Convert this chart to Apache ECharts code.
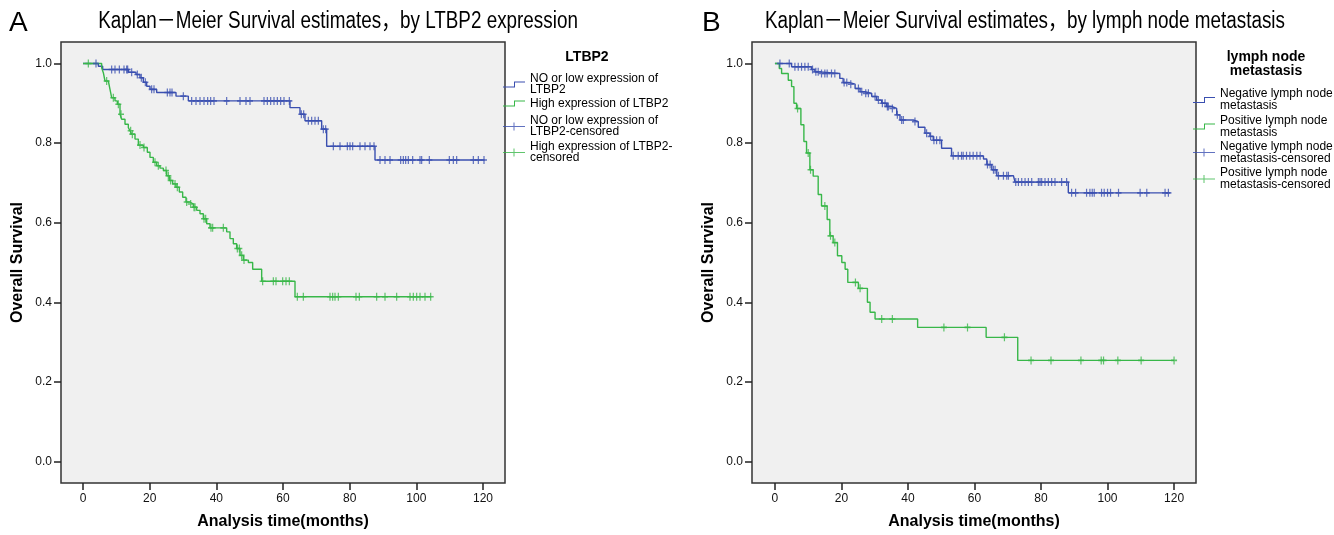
<!DOCTYPE html>
<html>
<head>
<meta charset="utf-8">
<script src="https://cdn.jsdelivr.net/npm/echarts@6/dist/echarts.min.js"></script>
<style>
  html, body { margin: 0; padding: 0; background: #fff; }
  #chart { width: 1334px; height: 535px; }
</style>
</head>
<body>
<div id="chart"></div>
<script>
// ---------------- data ----------------
const xTicks = [0, 20, 40, 60, 80, 100, 120];
const yTicks = [0, 0.2, 0.4, 0.6, 0.8, 1.0];

const titleA = 'Kaplan－Meier Survival estimates，by LTBP2 expression';
const titleB = 'Kaplan－Meier Survival estimates，by lymph node metastasis';
const legendTitleA = 'LTBP2';
const legendTitleB = 'lymph node\nmetastasis';
const legendLabelsA = ['NO or low expression of\nLTBP2', 'High expression of LTBP2', 'NO or low expression of\nLTBP2-censored', 'High expression of LTBP2-\ncensored'];
const legendLabelsB = ['Negative lymph node\nmetastasis', 'Positive lymph node\nmetastasis', 'Negative lymph node\nmetastasis-censored', 'Positive lymph node\nmetastasis-censored'];

// Panel A: LTBP2 low / no expression  [time, survival after step]
const ltbp2LowSteps = [[0,1.0],[4.6,0.993],[5.9,0.985],[13.6,0.978],[15.9,0.9725],[17.1,0.964],[18.1,0.953],[19.1,0.943],[20.1,0.935],[22.1,0.927],[27.9,0.918],[31.6,0.906],[62.1,0.889],[65.1,0.8725],[66.6,0.856],[71.6,0.835],[73.1,0.792],[87.6,0.7575],[120.5,0.7575]];
const ltbp2LowCensor = [3.9,8.6,9.6,10.9,12.3,13.1,13.4,14.6,16.3,17.5,18.7,20.6,21.3,25.3,26.1,26.7,30.1,32.6,33.9,35.1,36.3,37.4,38.3,39.3,43.1,47.1,48.9,50.1,54.3,55.3,56.3,57.3,58.3,59.3,60.3,61.9,65.5,66.2,67.6,68.6,69.6,70.6,72.1,72.8,75.1,77.1,79.3,80.1,80.9,83.1,84.6,86.1,87.3,89.1,90.6,92.1,95.3,96.1,96.8,97.6,98.9,101.1,101.6,103.9,109.9,111.1,112.1,117.1,118.6,120.3];
// Panel A: LTBP2 high expression
const ltbp2HighSteps = [[0,1.0],[5.6,0.989],[6.1,0.977],[6.6,0.956],[7.6,0.952],[8.1,0.935],[8.6,0.914],[9.6,0.906],[10.3,0.8975],[11.1,0.8725],[11.6,0.86],[12.6,0.8475],[13.6,0.839],[14.1,0.831],[14.6,0.8225],[15.6,0.81],[16.6,0.795],[18.1,0.789],[19.3,0.777],[20.1,0.764],[21.1,0.752],[22.1,0.743],[23.1,0.737],[24.1,0.731],[25.1,0.718],[25.9,0.706],[26.9,0.6975],[27.9,0.689],[28.9,0.677],[29.9,0.664],[30.9,0.652],[32.1,0.647],[33.1,0.639],[34.1,0.631],[35.1,0.6225],[36.1,0.61],[37.1,0.5975],[38.1,0.587],[43.1,0.577],[44.1,0.56],[45.1,0.547],[46.1,0.535],[47.1,0.518],[48.1,0.506],[49.6,0.5],[50.9,0.483],[53.6,0.453],[63.6,0.414],[104.5,0.414]];
const ltbp2HighCensor = [1.6,7.1,9.1,10.6,11.4,14.3,14.8,17.1,18.3,21.6,22.6,24.9,25.6,26.3,27.6,28.3,31.1,32.3,33.3,33.6,36.3,36.8,38.4,38.9,42.1,46.3,46.9,47.6,48.3,53.9,57.1,57.9,59.9,60.9,61.9,64.3,66.1,74.1,74.9,75.6,76.6,81.9,82.9,88.1,90.6,94.1,98.1,99.1,100.1,101.1,102.6,104.3];

// Panel B: negative lymph node metastasis
const lnNegSteps = [[0,1.0],[5.0,0.9917],[11.0,0.985],[12.0,0.979],[13.5,0.975],[19.5,0.9625],[20.5,0.952],[22.5,0.948],[24.1,0.937],[25.6,0.929],[27.1,0.925],[29.1,0.917],[30.6,0.908],[32.1,0.9],[33.6,0.892],[35.1,0.887],[36.6,0.871],[37.6,0.858],[41.6,0.854],[43.1,0.84],[45.1,0.825],[46.6,0.817],[47.6,0.807],[50.1,0.787],[53.1,0.768],[62.7,0.76],[63.7,0.746],[65.2,0.733],[66.7,0.718],[71.7,0.715],[72.2,0.702],[88.2,0.675],[118.8,0.675]];
const lnNegCensor = [1.5,4.3,6.0,7.0,8.0,9.0,10.0,11.3,12.3,13.0,14.0,15.0,15.7,17.0,18.0,20.8,21.6,22.8,25.1,26.1,27.3,28.1,30.1,31.1,32.3,33.1,33.8,34.1,35.3,36.8,38.1,38.6,42.1,45.6,46.8,47.8,48.6,49.6,53.6,55.1,56.1,56.6,57.6,58.6,59.6,60.7,61.7,63.9,64.7,65.7,66.2,67.2,68.7,69.7,70.2,72.4,73.2,74.2,75.2,76.2,77.2,79.2,79.7,80.2,81.2,82.2,83.2,84.2,86.2,87.7,89.2,90.4,93.7,94.7,95.4,96.0,98.2,99.0,100.0,100.9,103.3,109.8,111.8,117.3,118.3];
// Panel B: positive lymph node metastasis
const lnPosSteps = [[0,1.0],[1.3,0.9875],[2.0,0.975],[4.0,0.958],[5.0,0.942],[5.7,0.9],[6.5,0.887],[7.8,0.846],[8.7,0.804],[9.5,0.775],[10.5,0.733],[11.5,0.717],[13.0,0.671],[14.0,0.642],[15.7,0.608],[16.5,0.567],[17.5,0.55],[18.8,0.517],[20.1,0.5],[21.1,0.483],[21.9,0.45],[25.1,0.435],[27.8,0.4],[28.6,0.375],[30.1,0.358],[42.9,0.337],[63.5,0.312],[73.0,0.254],[120.0,0.254]];
const lnPosCensor = [6.8,10.0,10.7,15.0,16.7,18.0,24.2,25.6,32.1,35.3,50.8,57.9,69.0,77.0,83.0,92.0,98.1,98.8,103.1,110.1,120.0];

// ---------------- styles ----------------
const BLUE = '#3a4fb0';
const GREEN = '#38b749';
const ARIAL = "'Liberation Sans', Arial, 'Noto Sans CJK SC', sans-serif";
const PLUS = 'path://M-0.2,-1H0.2V-0.2H1V0.2H0.2V1H-0.2V0.2H-1V-0.2H-0.2Z';
const STEP_ICON = 'path://M0,5H11V0H22V1H12V6H0Z';
const PLUS_ICON = 'path://M0,3.5H22V4.5H0Z M10.5,0H11.5V8H10.5Z';

function survAt(steps, t) {
  let s = steps[0][1];
  for (const p of steps) { if (p[0] <= t) s = p[1]; else break; }
  return s;
}

const chart = echarts.init(document.getElementById('chart'), null, { renderer: 'canvas' });

function makeAxes(idx, xmin, xmax) {
  const x = {
    gridIndex: idx, type: 'value', min: xmin, max: xmax,
    axisLine: { show: false, onZero: false },
    splitLine: { show: false },
    axisTick: { show: true, customValues: xTicks, length: 7, lineStyle: { color: '#222', width: 1.5 } },
    axisLabel: { customValues: xTicks, fontSize: 12, fontFamily: ARIAL, color: '#111', margin: 10 },
    name: 'Analysis time(months)', nameLocation: 'middle', nameGap: 31,
    nameTextStyle: { fontSize: 16, fontWeight: 'bold', fontFamily: ARIAL, color: '#000' }
  };
  const y = {
    gridIndex: idx, type: 'value', min: -0.054, max: 1.054,
    axisLine: { show: false, onZero: false },
    splitLine: { show: false },
    axisTick: { show: true, customValues: yTicks, length: 7, lineStyle: { color: '#222', width: 1.5 } },
    axisLabel: { customValues: yTicks, fontSize: 12, fontFamily: ARIAL, color: '#111', margin: 9,
      formatter: v => v.toFixed(1) },
    name: 'Overall Survival', nameLocation: 'middle', nameGap: 35,
    nameTextStyle: { fontSize: 16, fontWeight: 'bold', fontFamily: ARIAL, color: '#000' }
  };
  return [x, y];
}
const axA = makeAxes(0, -6.6, 126.6);
const axB = makeAxes(1, -6.9, 126.6);

function kmSeries(idx, name, steps, color) {
  return { type: 'line', name, xAxisIndex: idx, yAxisIndex: idx, data: steps, step: 'end',
    showSymbol: false, symbol: 'none', lineStyle: { color, width: 1.4 }, itemStyle: { color }, z: 2 };
}
function censorSeries(idx, name, times, steps, color) {
  return { type: 'scatter', name, xAxisIndex: idx, yAxisIndex: idx,
    data: times.map(t => [t, survAt(steps, t)]),
    symbol: PLUS, symbolSize: [6, 8], itemStyle: { color }, z: 3 };
}

const legendText = { fontSize: 12, color: '#000', fontFamily: ARIAL };
function legendItem(left, top, name, icon, ih, lh) {
  return { left, top, orient: 'vertical', padding: 0, itemWidth: 22, itemHeight: ih, icon,
    selectedMode: false, data: [name], textStyle: Object.assign({ lineHeight: lh }, legendText) };
}
function titleText(text, x, y) {
  // condensed look of the original title font
  return { type: 'text', x, y, scaleX: 0.82, silent: true,
    style: { text, font: "23px 'Liberation Sans', Arial, 'Noto Sans CJK SC', sans-serif", fill: '#000',
      align: 'center', verticalAlign: 'middle' } };
}

const option = {
  animation: false,
  backgroundColor: '#fff',
  title: [
    { text: 'A', left: 9, top: 9, padding: 0, textStyle: { fontSize: 28, fontWeight: 'normal', color: '#000', fontFamily: ARIAL } },
    { text: 'B', left: 702, top: 9, padding: 0, textStyle: { fontSize: 28, fontWeight: 'normal', color: '#000', fontFamily: ARIAL } },
    { text: legendTitleA, left: 587, top: 50, padding: 0, textAlign: 'center', textStyle: { fontSize: 14, fontWeight: 'bold', color: '#000', fontFamily: ARIAL } },
    { text: legendTitleB, left: 1266, top: 50, padding: 0, textAlign: 'center', textStyle: { fontSize: 14, fontWeight: 'bold', color: '#000', fontFamily: ARIAL, lineHeight: 14 } }
  ],
  graphic: [ titleText(titleA, 338, 22), titleText(titleB, 1025, 22) ],
  legend: [
    legendItem(503, 73, legendLabelsA[0], STEP_ICON, 6, 11),
    legendItem(503, 97.5, legendLabelsA[1], STEP_ICON, 6, 11),
    legendItem(503, 115, legendLabelsA[2], PLUS_ICON, 8, 11),
    legendItem(503, 141, legendLabelsA[3], PLUS_ICON, 8, 11),
    legendItem(1193, 88, legendLabelsB[0], STEP_ICON, 6, 12),
    legendItem(1193, 114.5, legendLabelsB[1], STEP_ICON, 6, 12),
    legendItem(1193, 140.5, legendLabelsB[2], PLUS_ICON, 8, 12),
    legendItem(1193, 167, legendLabelsB[3], PLUS_ICON, 8, 12)
  ],
  grid: [
    { left: 61, top: 42, width: 444, height: 443, show: true, backgroundColor: '#f0f0f0', borderColor: '#333', borderWidth: 1.5 },
    { left: 752, top: 42, width: 444, height: 443, show: true, backgroundColor: '#f0f0f0', borderColor: '#333', borderWidth: 1.5 }
  ],
  xAxis: [axA[0], axB[0]],
  yAxis: [axA[1], axB[1]],
  series: [
    kmSeries(0, legendLabelsA[0], ltbp2LowSteps, BLUE),
    kmSeries(0, legendLabelsA[1], ltbp2HighSteps, GREEN),
    censorSeries(0, legendLabelsA[2], ltbp2LowCensor, ltbp2LowSteps, BLUE),
    censorSeries(0, legendLabelsA[3], ltbp2HighCensor, ltbp2HighSteps, GREEN),
    kmSeries(1, legendLabelsB[0], lnNegSteps, BLUE),
    kmSeries(1, legendLabelsB[1], lnPosSteps, GREEN),
    censorSeries(1, legendLabelsB[2], lnNegCensor, lnNegSteps, BLUE),
    censorSeries(1, legendLabelsB[3], lnPosCensor, lnPosSteps, GREEN)
  ]
};
chart.setOption(option);
</script>
</body>
</html>
